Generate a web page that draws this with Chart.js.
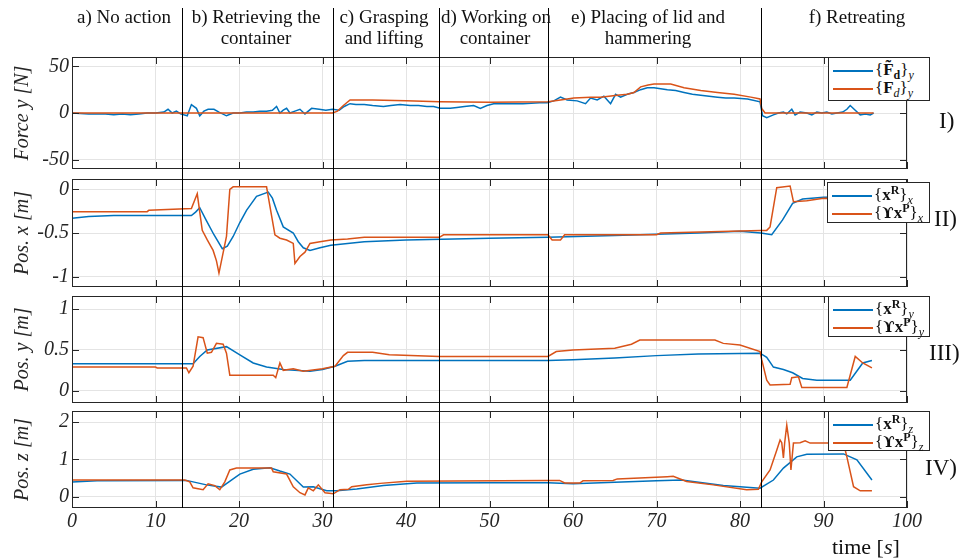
<!DOCTYPE html>
<html>
<head>
<meta charset="utf-8">
<script src="https://cdn.jsdelivr.net/npm/chart.js@4.4.1/dist/chart.umd.min.js"></script>
<style>
  body { margin: 0; background: #fff; }
  #fig { position: relative; width: 962px; height: 559px; overflow: hidden; font-family: 'Liberation Serif', serif; color: #111; }
  canvas { position: absolute; left: 0; }
  .phase { position: absolute; text-align: center; font-size: 19px; line-height: 21px; white-space: nowrap; }
  .num { position: absolute; font-size: 23px; line-height: 23px; }
  .leg { position: absolute; background: #fff; border: 1px solid #262626; box-sizing: border-box; padding-top: 3px; font-size: 17px; }
  .row { position: relative; height: 18px; line-height: 18px; padding-left: 46px; white-space: nowrap; }
  .row .ln { position: absolute; left: 4px; top: 9px; width: 40px; height: 1.5px; }
  sub, sup { font-size: 12px; line-height: 0; }
  sup { vertical-align: 6px; }
  sub { vertical-align: -4px; }
  .ups { font-family: 'DejaVu Serif', serif; font-size: 15px; }
</style>
</head>
<body>
<div id="fig">
  <canvas id="c1" width="962" height="174" style="top:0"></canvas>
  <canvas id="c2" width="962" height="117" style="top:174px"></canvas>
  <canvas id="c3" width="962" height="116" style="top:291px"></canvas>
  <canvas id="c4" width="962" height="152" style="top:407px"></canvas>

  <div class="phase" style="left:44px;width:160px;top:6px">a) No action</div>
  <div class="phase" style="left:176px;width:160px;top:6px">b) Retrieving the<br>container</div>
  <div class="phase" style="left:334px;width:100px;top:6px">c) Grasping<br>and lifting</div>
  <div class="phase" style="left:441px;width:108px;top:6px">d) Working on<br>container</div>
  <div class="phase" style="left:563px;width:170px;top:6px">e) Placing of lid and<br>hammering</div>
  <div class="phase" style="left:797px;width:120px;top:6px">f) Retreating</div>

  <div class="num" style="left:939px;top:109px">I)</div>
  <div class="num" style="left:934px;top:207px">II)</div>
  <div class="num" style="left:929px;top:341px">III)</div>
  <div class="num" style="left:925px;top:456px">IV)</div>
  <div class="num" style="left:832px;top:535px;font-size:22px">time [<i>s</i>]</div>

  <div class="leg" style="left:828px;top:57px;width:102px;height:44px">
    <div class="row"><span class="ln" style="background:#0072BD"></span>{<b>F&#771;</b><sub><b>d</b></sub>}<sub><i>y</i></sub></div>
    <div class="row"><span class="ln" style="background:#D95319"></span>{<b>F</b><sub><i>d</i></sub>}<sub><i>y</i></sub></div>
  </div>
  <div class="leg" style="left:827px;top:182px;width:103px;height:41px">
    <div class="row"><span class="ln" style="background:#0072BD"></span>{<b>x</b><sup><b>R</b></sup>}<sub><i>x</i></sub></div>
    <div class="row"><span class="ln" style="background:#D95319"></span>{<b class="ups">&#978;</b><b>x</b><sup><b>P</b></sup>}<sub><i>x</i></sub></div>
  </div>
  <div class="leg" style="left:828px;top:296px;width:102px;height:41px">
    <div class="row"><span class="ln" style="background:#0072BD"></span>{<b>x</b><sup><b>R</b></sup>}<sub><i>y</i></sub></div>
    <div class="row"><span class="ln" style="background:#D95319"></span>{<b class="ups">&#978;</b><b>x</b><sup><b>P</b></sup>}<sub><i>y</i></sub></div>
  </div>
  <div class="leg" style="left:828px;top:411px;width:102px;height:40px">
    <div class="row"><span class="ln" style="background:#0072BD"></span>{<b>x</b><sup><b>R</b></sup>}<sub><i>z</i></sub></div>
    <div class="row"><span class="ln" style="background:#D95319"></span>{<b class="ups">&#978;</b><b>x</b><sup><b>P</b></sup>}<sub><i>z</i></sub></div>
  </div>
</div>
<script>
// phase boundaries and axis ticks
const phaseTimes = [13.2, 31.3, 44.0, 57.0, 82.5];
const xTicks = [0, 10, 20, 30, 40, 50, 60, 70, 80, 90, 100];
const yTicksForce = [-50, 0, 50];
const yTicksPosX = [-1, -0.5, 0];
const yTicksPosY = [0, 0.5, 1];
const yTicksPosZ = [0, 1, 2];

// I) force y
const forceEstT = [0, 2, 4, 5, 6, 7, 8, 9, 10, 11, 11.5, 12, 12.5, 13, 13.8, 14.3, 14.9, 15.3, 15.8, 16.3, 17, 17.6, 18.5, 19.3, 20.1, 20.9, 21.7, 22.5, 23.3, 24, 24.5, 24.9, 25.3, 25.7, 26.1, 26.7, 27.3, 27.9, 28.7, 29.6, 30.4, 31.2, 32, 32.6, 33.3, 34, 35, 36, 37.3, 38.2, 39.3, 40.5, 41.5, 42.5, 43.3, 44.1, 45.3, 46.1, 47, 48.1, 48.9, 49.7, 50.5, 52, 54, 56, 56.9, 57.7, 58.5, 59.3, 60.5, 61.5, 62.1, 62.9, 63.7, 64.5, 65.1, 65.7, 66.5, 67.3, 68.1, 68.9, 69.7, 70.5, 71.3, 72.3, 73.3, 74.3, 75.3, 76.3, 77.3, 78.3, 79.3, 80.9, 82.4, 82.7, 83.2, 84, 84.6, 85.2, 85.6, 86.2, 86.6, 87.2, 88, 88.6, 89.2, 89.8, 90.4, 91, 91.6, 92.3, 92.8, 93.2, 93.8, 94.4, 95, 95.6, 96];
const forceEstY = [0, -1, -1, -2, -1, -2, -1, 0, 0, 1, 4, 0, 2, -1, -3, 9, 5, -3, 2, 4, 4, 1, -3, 0, 0, 1, 1, 2, 2, 3, 7, 0, 3, 5, 0, 2, 4, -1, 5, 4, 3, 4, 3, 7, 10, 9, 9, 8, 7, 8, 9, 8, 8, 7, 7, 5, 5, 6, 7, 8, 5, 8, 10, 10, 10, 11, 11, 13, 17, 14, 13, 10, 16, 14, 18, 10, 20, 17, 20, 22, 25, 27, 27, 26, 25, 24, 22, 20, 19, 18, 17, 16, 16, 15, 12, -3, -5, -2, 0, 1, -1, 4, -2, 1, 0, -2, 1, 0, 1, -1, 0, 1, 4, 8, 3, -2, -1, -2, 0];
const forceDesT = [0, 10, 13, 20, 25, 31.2, 31.8, 32.5, 33.3, 36, 40, 44, 50, 57, 58.5, 60.1, 62.1, 63.3, 65.3, 66.5, 67.3, 68.1, 69, 69.7, 71.7, 73.3, 75.3, 77.3, 79.3, 81.3, 82.4, 82.6, 83, 90, 96];
const forceDesY = [0, 0, 0, 0, 0, 0, 2, 8, 14, 14, 13, 12, 11.5, 12, 14, 16, 17, 17, 19, 20, 22, 28, 30, 31, 31, 27, 24, 22, 20, 17, 15, 5, 0, 0, 0];

// II) position x
const posXRobT = [0, 2, 5, 14.3, 14.8, 15.3, 16, 17, 18, 18.6, 19.3, 20.1, 20.9, 22.1, 23.5, 24, 24.5, 25.3, 26.5, 27.1, 27.7, 28.5, 29.7, 31, 35, 40, 50, 57, 65, 75, 80, 82.5, 83.8, 85.1, 86.3, 87.5, 90, 96];
const posXRobY = [-0.33, -0.31, -0.3, -0.3, -0.26, -0.21, -0.34, -0.52, -0.68, -0.65, -0.54, -0.38, -0.24, -0.08, -0.03, -0.1, -0.24, -0.43, -0.5, -0.6, -0.67, -0.7, -0.67, -0.64, -0.6, -0.58, -0.56, -0.55, -0.53, -0.5, -0.48, -0.5, -0.52, -0.35, -0.16, -0.11, -0.09, -0.08];
const posXPerT = [0, 9, 9.2, 14.3, 15, 15.6, 16.2, 16.9, 17.3, 17.6, 18.5, 18.9, 19.3, 23.3, 23.9, 24.3, 24.9, 25.7, 26.5, 26.7, 27.3, 27.9, 28.5, 29.7, 31, 33, 35, 44, 44.5, 57, 57.5, 58.5, 59, 70, 70.5, 82.5, 83.2, 83.6, 84.4, 86, 86.4, 88, 90, 96];
const posXPerY = [-0.255, -0.255, -0.24, -0.22, -0.05, -0.47, -0.58, -0.7, -0.82, -0.96, -0.54, 0, 0.03, 0.03, -0.3, -0.52, -0.56, -0.58, -0.62, -0.85, -0.77, -0.72, -0.62, -0.6, -0.58, -0.57, -0.55, -0.55, -0.52, -0.52, -0.58, -0.58, -0.52, -0.52, -0.5, -0.47, -0.47, -0.43, 0.02, 0.04, -0.14, -0.13, -0.1, -0.12];

// III) position y
const posYRobT = [0, 14.5, 15.3, 16.2, 18.5, 20.1, 21.7, 23.3, 25.3, 28.5, 30, 31.5, 33, 35, 57, 60, 65, 70, 75, 82.4, 83.2, 84, 85.2, 86.3, 87.5, 89.2, 93.2, 94.7, 95.8];
const posYRobY = [0.33, 0.33, 0.42, 0.5, 0.54, 0.44, 0.34, 0.29, 0.26, 0.24, 0.26, 0.3, 0.36, 0.37, 0.37, 0.38, 0.4, 0.43, 0.45, 0.46, 0.41, 0.29, 0.26, 0.22, 0.15, 0.13, 0.13, 0.34, 0.37];
const posYPerT = [0, 10, 10.2, 13.7, 14, 14.5, 15.1, 15.7, 16.2, 16.7, 17.3, 18.1, 18.5, 18.9, 24.1, 24.4, 24.9, 25.3, 26.5, 27.7, 30, 31.5, 32.5, 33, 36, 38, 44, 57, 58, 60, 65, 67, 68, 77, 78, 80, 82.4, 82.6, 83.2, 83.6, 86, 86.2, 87, 87.4, 92.8, 93.8, 94.7, 95.8];
const posYPerY = [0.29, 0.29, 0.28, 0.28, 0.22, 0.3, 0.66, 0.65, 0.46, 0.47, 0.58, 0.57, 0.46, 0.19, 0.19, 0.16, 0.34, 0.25, 0.27, 0.24, 0.27, 0.3, 0.43, 0.47, 0.47, 0.44, 0.42, 0.42, 0.48, 0.5, 0.52, 0.57, 0.62, 0.62, 0.58, 0.56, 0.48, 0.38, 0.13, 0.07, 0.08, 0.16, 0.17, 0.04, 0.04, 0.42, 0.34, 0.28];

// IV) position z
const posZRobT = [0, 3, 13.7, 16.1, 17.9, 20.1, 21.7, 23.7, 24.9, 26.1, 27.7, 28.9, 30.5, 31.7, 34.1, 37.3, 41.3, 50, 57, 60, 70, 73, 78, 82.4, 84, 85.2, 86.8, 88, 92.4, 94, 95.8];
const posZRobY = [0.4, 0.43, 0.44, 0.32, 0.26, 0.61, 0.74, 0.78, 0.69, 0.61, 0.26, 0.27, 0.16, 0.16, 0.21, 0.3, 0.37, 0.38, 0.38, 0.35, 0.43, 0.45, 0.3, 0.23, 0.45, 0.77, 1.07, 1.14, 1.15, 0.99, 0.45];
const posZPerT = [0, 13.5, 14.1, 14.5, 15.7, 16.3, 17.1, 17.7, 18.3, 18.9, 19.7, 23.9, 24.1, 25.7, 26.5, 27.3, 27.9, 28.3, 28.9, 29.5, 30.3, 31.3, 32.1, 33.1, 33.5, 35.3, 36.9, 40.1, 57, 58.4, 59, 60.8, 61.2, 64.8, 65.3, 71.3, 72, 73.6, 76.8, 80.8, 82.2, 82.6, 83.6, 84.4, 84.8, 85, 85.2, 85.35, 85.6, 85.9, 86.1, 86.4, 87.2, 87.8, 88.4, 92.4, 92.8, 93.6, 94.4, 95.8];
const posZPerY = [0.45, 0.45, 0.4, 0.24, 0.19, 0.35, 0.3, 0.19, 0.4, 0.72, 0.77, 0.77, 0.67, 0.61, 0.27, 0.11, 0.05, 0.24, 0.16, 0.32, 0.11, 0.08, 0.19, 0.2, 0.27, 0.32, 0.36, 0.42, 0.44, 0.44, 0.37, 0.37, 0.43, 0.44, 0.48, 0.54, 0.55, 0.41, 0.32, 0.19, 0.2, 0.4, 0.72, 1.25, 1.52, 1.45, 1.04, 1.45, 1.92, 1.44, 0.72, 1.44, 1.45, 1.5, 1.44, 1.44, 1.07, 0.27, 0.16, 0.16];

const blue = '#0072BD';
const orange = '#D95319';
const axisColor = '#262626';
const gridColor = '#e4e4e4';
const tickFont = { family: 'Liberation Serif', size: 20, style: 'italic' };

const pts = (t, v) => t.map((x, i) => ({ x: x, y: v[i] }));

// box, inward ticks and phase separators
const frame = {
  id: 'frame',
  afterDatasetsDraw(chart, args, opts) {
    const { ctx, chartArea: a, scales } = chart;
    const line = (x1, y1, x2, y2) => { ctx.beginPath(); ctx.moveTo(x1, y1); ctx.lineTo(x2, y2); ctx.stroke(); };
    ctx.save();
    ctx.lineWidth = 1;
    ctx.strokeStyle = axisColor;
    scales.x.ticks.forEach(tk => {
      const x = Math.round(scales.x.getPixelForValue(tk.value)) + 0.5;
      line(x, a.top, x, a.top + 7);
      line(x, a.bottom, x, a.bottom - 7);
    });
    scales.y.ticks.forEach(tk => {
      const y = Math.round(scales.y.getPixelForValue(tk.value)) + 0.5;
      line(a.left, y, a.left + 7, y);
      line(a.right, y, a.right - 7, y);
    });
    ctx.strokeRect(Math.round(a.left) + 0.5, Math.round(a.top) + 0.5, Math.round(a.width) - 1, Math.round(a.height) - 1);
    ctx.strokeStyle = '#000';
    phaseTimes.forEach(t => {
      const x = Math.round(scales.x.getPixelForValue(t)) + 0.5;
      line(x, opts.lineTop, x, opts.toArea ? a.bottom : chart.height);
    });
    ctx.restore();
  }
};

function makePlot(id, s) {
  return new Chart(document.getElementById(id), {
    type: 'line',
    data: {
      datasets: [
        { data: pts(s.perT, s.perY), borderColor: orange, order: 0 },
        { data: pts(s.robT, s.robY), borderColor: blue, order: 1 }
      ]
    },
    options: {
      responsive: false,
      animation: false,
      layout: { padding: { top: s.padTop, bottom: s.padBottom, left: 0, right: 55 } },
      elements: { point: { radius: 0 }, line: { borderWidth: 1.5, tension: 0 } },
      plugins: {
        legend: { display: false },
        tooltip: { enabled: false },
        frame: { lineTop: s.lineTop, toArea: s.last }
      },
      scales: {
        x: {
          type: 'linear', min: 0, max: 100,
          afterBuildTicks: sc => { sc.ticks = xTicks.map(v => ({ value: v })); },
          afterFit: sc => { sc.height = s.last ? 30 : 0; sc.paddingLeft = 0; sc.paddingRight = 0; },
          grid: { color: gridColor, drawTicks: false },
          border: { display: false },
          ticks: { display: s.last, padding: 2, font: tickFont, color: axisColor, maxRotation: 0 }
        },
        y: {
          min: s.min, max: s.max,
          afterBuildTicks: sc => { sc.ticks = s.ticks.map(v => ({ value: v })); },
          afterFit: sc => { sc.width = 72; sc.paddingTop = 0; sc.paddingBottom = 0; },
          grid: { color: gridColor, drawTicks: false },
          border: { display: false },
          ticks: { padding: 3, font: tickFont, color: axisColor, callback: v => String(v) },
          title: { display: true, text: s.title, font: { family: 'Liberation Serif', size: 20, style: 'italic' }, color: axisColor, padding: { top: 11, bottom: 0 } }
        }
      }
    },
    plugins: [frame]
  });
}

makePlot('c1', { robT: forceEstT, robY: forceEstY, perT: forceDesT, perY: forceDesY, min: -60, max: 60, ticks: yTicksForce,
  title: 'Force y [N]', padTop: 57, padBottom: 5, lineTop: 8, last: false });
makePlot('c2', { robT: posXRobT, robY: posXRobY, perT: posXPerT, perY: posXPerY, min: -1.12, max: 0.12, ticks: yTicksPosX,
  title: 'Pos. x [m]', padTop: 5, padBottom: 4, lineTop: 0, last: false });
makePlot('c3', { robT: posYRobT, robY: posYRobY, perT: posYPerT, perY: posYPerY, min: -0.15, max: 1.16, ticks: yTicksPosY,
  title: 'Pos. y [m]', padTop: 5, padBottom: 4, lineTop: 0, last: false });
makePlot('c4', { robT: posZRobT, robY: posZRobY, perT: posZPerT, perY: posZPerY, min: -0.3, max: 2.3, ticks: yTicksPosZ,
  title: 'Pos. z [m]', padTop: 4, padBottom: 21, lineTop: 0, last: true });
</script>
</body>
</html>
